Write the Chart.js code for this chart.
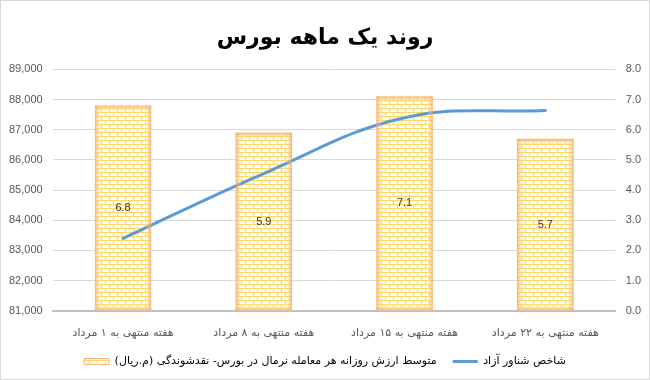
<!DOCTYPE html>
<html><head><meta charset="utf-8">
<script src="https://cdn.jsdelivr.net/npm/chart.js@4.4.0/dist/chart.umd.min.js"></script>
<style>
html,body{margin:0;padding:0;background:#fff;}
#wrap{width:648px;height:378px;border:1px solid #D9D9D9;position:relative;}
canvas{display:block;}
</style></head>
<body>
<div id="wrap"><canvas id="c" width="648" height="378"></canvas></div>
<script>
const categories = ['هفته منتهی به ۱ مرداد','هفته منتهی به ۸ مرداد','هفته منتهی به ۱۵ مرداد','هفته منتهی به ۲۲ مرداد'];
const barValues = [6.8, 5.9, 7.1, 5.7];
const lineValues = [83400, 85550, 87400, 87640];
const barLabel = 'متوسط ارزش روزانه هر معامله نرمال در بورس- نقدشوندگی (م.ریال)';
const lineLabel = 'شاخص شناور آزاد';
const chartTitle = 'روند یک ماهه بورس';

const canvas = document.getElementById('c');
const ctx = canvas.getContext('2d');
const tile = document.createElement('canvas');
tile.width = 8; tile.height = 8;
const t = tile.getContext('2d');
t.fillStyle = '#FFFBEF'; t.fillRect(0,0,8,8);
t.fillStyle = '#FFD966';
t.fillRect(0,3,8,1); t.fillRect(0,7,8,1);
t.fillRect(0,0,1,3); t.fillRect(4,4,1,3);
const brick = ctx.createPattern(tile,'repeat');

const BAR_INDEX = 1;
const barDecor = {
  id:'barDecor',
  afterDatasetsDraw(chart){
    const meta = chart.getDatasetMeta(BAR_INDEX);
    const c = chart.ctx;
    c.save();
    meta.data.forEach((el)=>{
      const x = el.x, y = el.y, base = el.base, width = el.width;
      if (![x,y,base,width].every(Number.isFinite)) return;
      const l = x - width/2, r = x + width/2, e = 6;
      const col0 = 'rgba(244,160,90,0.8)', col1 = 'rgba(255,230,200,0)';
      let g = c.createLinearGradient(l,0,l+e,0);
      g.addColorStop(0,col0); g.addColorStop(1,col1);
      c.fillStyle = g; c.fillRect(l,y,e,base-y);
      g = c.createLinearGradient(r,0,r-e,0);
      g.addColorStop(0,col0); g.addColorStop(1,col1);
      c.fillStyle = g; c.fillRect(r-e,y,e,base-y);
      g = c.createLinearGradient(0,y,0,y+e);
      g.addColorStop(0,col0); g.addColorStop(1,col1);
      c.fillStyle = g; c.fillRect(l,y,width,e);
      g = c.createLinearGradient(0,base,0,base-e);
      g.addColorStop(0,'rgba(244,160,90,0.6)'); g.addColorStop(1,col1);
      c.fillStyle = g; c.fillRect(l,base-e,width,e);
    });
    c.restore();
  },
  afterDraw(chart){
    const meta = chart.getDatasetMeta(BAR_INDEX);
    const c = chart.ctx;
    c.save();
    c.font = '11px "Liberation Sans", sans-serif';
    c.fillStyle = '#333333';
    c.textAlign = 'center'; c.textBaseline = 'middle';
    meta.data.forEach((el,i)=>{
      if (!Number.isFinite(el.y)) return;
      c.fillText(barValues[i].toFixed(1), el.x, (el.y+el.base)/2);
    });
    c.restore();
  }
};

new Chart(ctx,{
  data:{
    labels: categories,
    datasets:[
      {type:'line', label: lineLabel, data: lineValues, yAxisID:'yL', borderColor:'#5B9BD5', backgroundColor:'#5B9BD5', borderWidth:3, pointRadius:0, tension:0.4, order:0, borderCapStyle:'round'},
      {type:'bar', label: barLabel, data: barValues, yAxisID:'yR', backgroundColor: brick, borderWidth:0, categoryPercentage:0.8, barPercentage:0.5, order:1}
    ]
  },
  options:{
    responsive:false, animation:false,
    layout:{padding:{left:8,right:8,top:0,bottom:2}},
    plugins:{
      title:{display:true,text:chartTitle,color:'#000',font:{family:'"DejaVu Sans", sans-serif',size:22,weight:'bold'},padding:{top:24,bottom:18}},
      tooltip:{enabled:false},
      legend:{position:'bottom',textDirection:'rtl',
        labels:{usePointStyle:true,pointStyleWidth:25,boxHeight:6,padding:16,color:'#404040',font:{family:'"DejaVu Sans", sans-serif',size:11},
          generateLabels(chart){
            return [
              {text:barLabel,fillStyle:brick,strokeStyle:'#F4B183',lineWidth:1,pointStyle:'rect',datasetIndex:1,hidden:false},
              {text:lineLabel,fillStyle:'#5B9BD5',strokeStyle:'#5B9BD5',lineWidth:3,pointStyle:'line',datasetIndex:0,hidden:false}
            ];
          }}
      }
    },
    scales:{
      x:{grid:{display:false,drawTicks:false},border:{display:true,color:'#BFBFBF',width:2},
        afterFit(s){ s.paddingLeft = 0; s.paddingRight = 0; s.height -= s.options.ticks.padding; },
        ticks:{color:'#595959',padding:16,font:{family:'"DejaVu Sans", sans-serif',size:11},maxRotation:0,autoSkip:false}},
      yL:{position:'left',min:81000,max:89000,
        afterFit(s){ s.width -= s.options.ticks.padding; },
        ticks:{stepSize:1000,color:'#595959',padding:10,font:{family:'"Liberation Sans", sans-serif',size:11},callback:v=>v.toLocaleString('en-US')},
        grid:{color:'#D9D9D9',drawTicks:false},border:{display:false}},
      yR:{position:'right',min:0,max:8,
        afterFit(s){ s.width -= s.options.ticks.padding; },
        ticks:{stepSize:1,color:'#595959',padding:10,font:{family:'"Liberation Sans", sans-serif',size:11},callback:v=>v.toFixed(1)},
        grid:{drawOnChartArea:false,drawTicks:false},border:{display:false}}
    }
  },
  plugins:[barDecor]
});
</script>
</body></html>
